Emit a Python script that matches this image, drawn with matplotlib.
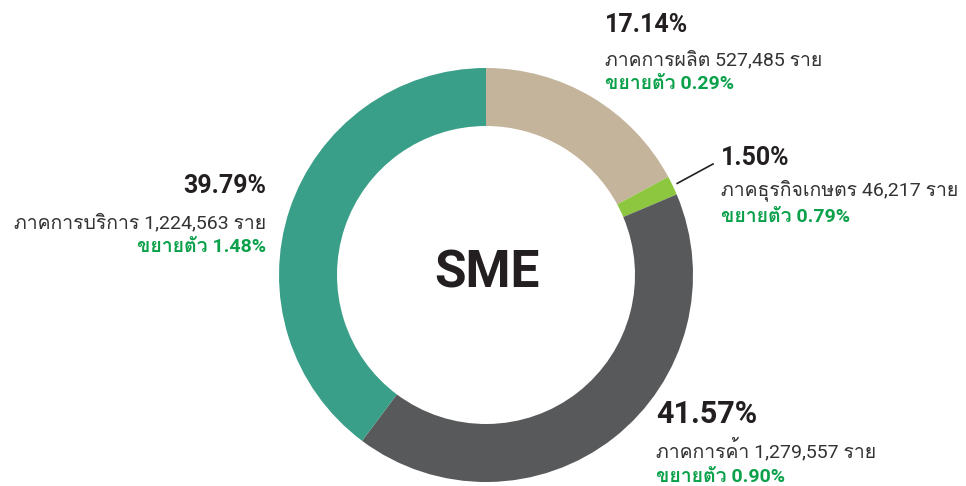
import numpy as np
import matplotlib
matplotlib.use("Agg")
import matplotlib.pyplot as plt
from matplotlib import font_manager
from matplotlib.ft2font import FT2Font

# data
sectors = ["ภาคการผลิต", "ภาคธุรกิจเกษตร", "ภาคการค้า", "ภาคการบริการ"]
shares = [17.14, 1.50, 41.57, 39.79]
counts = ["527,485", "46,217", "1,279,557", "1,224,563"]
growth = ["0.29%", "0.79%", "0.90%", "1.48%"]
colors = ["#C3B49B", "#8DC63F", "#58595B", "#3A9F88"]


def find_thai_font():
    # first installed family that has Thai glyphs
    for f in font_manager.fontManager.ttflist:
        try:
            if FT2Font(f.fname).get_char_index(ord("ภ")):
                return f.name
        except Exception:
            pass
    return "DejaVu Sans"


thai = find_thai_font()
fam = ["Roboto", thai, "DejaVu Sans"]

W, H = 966, 486
fig = plt.figure(figsize=(W / 100, H / 100), dpi=100)
ax = fig.add_axes([0, 0, 1, 1])

cx, cy, R = 486, H - 275, 207
wedges, _ = ax.pie(shares, colors=colors, startangle=90, counterclock=False,
                   center=(cx, cy), radius=R,
                   wedgeprops=dict(width=58, linewidth=0))

ax.set_xlim(0, W)
ax.set_ylim(0, H)
ax.set_aspect("equal")
ax.axis("off")

dark = "#231F20"
grey = "#333333"
green = "#0BA14B"


def label(x, y_pct, y_name, y_grow, i, ha="left", pct_size=18):
    ax.text(x, H - y_pct, f"{shares[i]:.2f}%", ha=ha, va="baseline",
            fontsize=pct_size, fontweight="bold", color=dark, family=fam)
    ax.text(x, H - y_name, f"{sectors[i]} {counts[i]} ราย", ha=ha, va="baseline",
            fontsize=14, color=grey, family=fam)
    ax.text(x, H - y_grow, f"ขยายตัว {growth[i]}", ha=ha, va="baseline",
            fontsize=14, fontweight="bold", color=green, family=fam)


label(605, 32, 65, 89, 0)
label(721, 165, 195, 222, 1)
label(656, 423, 457, 482, 2, pct_size=22)
label(266, 193, 228, 252, 3, ha="right")

# leader line for the small agriculture wedge
w = wedges[1]
mid = np.deg2rad((w.theta1 + w.theta2) / 2)
ax.plot([cx + (R + 5) * np.cos(mid), 713], [cy + (R + 5) * np.sin(mid), H - 164],
        color=dark, linewidth=1.2)

ax.text(487, H - 287, "SME", ha="center", va="baseline", fontsize=37,
        fontweight="bold", color=dark, family=fam)

fig.savefig("out.png", dpi=100)
